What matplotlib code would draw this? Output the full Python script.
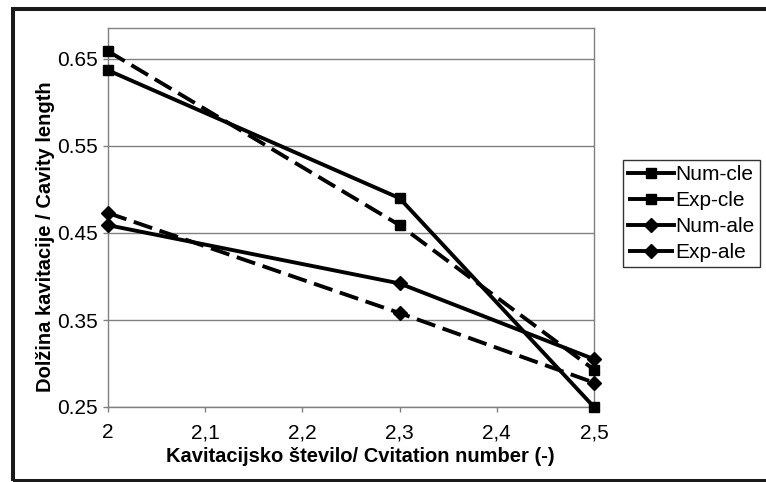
import matplotlib.pyplot as plt
from matplotlib.patches import Rectangle

# cavitation number
x = [2.0, 2.3, 2.5]

num_cle = [0.637, 0.490, 0.250]
exp_cle = [0.659, 0.459, 0.293]
num_ale = [0.459, 0.392, 0.305]
exp_ale = [0.473, 0.358, 0.278]

names = ["Num-cle", "Exp-cle", "Num-ale", "Exp-ale"]
xticks = [2.0, 2.1, 2.2, 2.3, 2.4, 2.5]
xticklabels = ["2", "2,1", "2,2", "2,3", "2,4", "2,5"]
yticks = [0.25, 0.35, 0.45, 0.55, 0.65]
yticklabels = ["0.25", "0.35", "0.45", "0.55", "0.65"]

plt.rcParams['font.family'] = ['Liberation Sans', 'DejaVu Sans']

fig = plt.figure(figsize=(7.66, 4.82), dpi=100)
ax = fig.add_axes([108 / 766, 1 - 407 / 482, 486 / 766, 379 / 482])

series = [num_cle, exp_cle, num_ale, exp_ale]
markers = ["s", "s", "D", "D"]
msizes = [7.5, 7.5, 7, 7]
styles = ["-", (0, (5, 2)), "-", (0, (5, 2))]
for ys, m, ms, ls, name in zip(series, markers, msizes, styles, names):
    ax.plot(x, ys, color="black", lw=2.8, linestyle=ls, marker=m, ms=ms,
            label=name, clip_on=False, zorder=3)

ax.set_xlim(2.0, 2.5)
ax.set_ylim(0.25, 0.25 + 379 / 870)
ax.set_xticks(xticks)
ax.set_xticklabels(xticklabels)
ax.set_yticks(yticks)
ax.set_yticklabels(yticklabels)
ax.grid(axis="y", color="#808080", lw=1)
for s in ax.spines.values():
    s.set_color("#808080")
    s.set_linewidth(1)
ax.tick_params(color="#808080", length=3.6, width=1, labelsize=15)
ax.tick_params(axis="x", pad=8)
ax.tick_params(axis="y", pad=4)

ax.set_xlabel("Kavitacijsko število/ Cvitation number (-)", fontsize=14.5,
              fontweight="bold", labelpad=5)
ax.xaxis.set_label_coords(0.52, -0.105)
ax.set_ylabel("Dolžina kavitacije / Cavity length", fontsize=14.5,
              fontweight="bold")
ax.yaxis.set_label_coords(-0.109, 0.449)

leg = ax.legend(loc="upper left", bbox_to_anchor=(623 / 766, 1 - 160 / 482),
                bbox_transform=fig.transFigure, frameon=True, fancybox=False,
                edgecolor="black", handlelength=2.2, handletextpad=0.05,
                borderpad=0.25, labelspacing=0.33, borderaxespad=0,
                prop={"size": 15})
leg.get_frame().set_linewidth(1)

# outer frame of the picture
fig.patches.append(Rectangle((12.5 / 766, 1.5 / 482), 1.0, 1 - 10 / 482,
                             transform=fig.transFigure, fill=False,
                             edgecolor="#1a1a1a", lw=2.9))

fig.savefig("out.png", dpi=100)
